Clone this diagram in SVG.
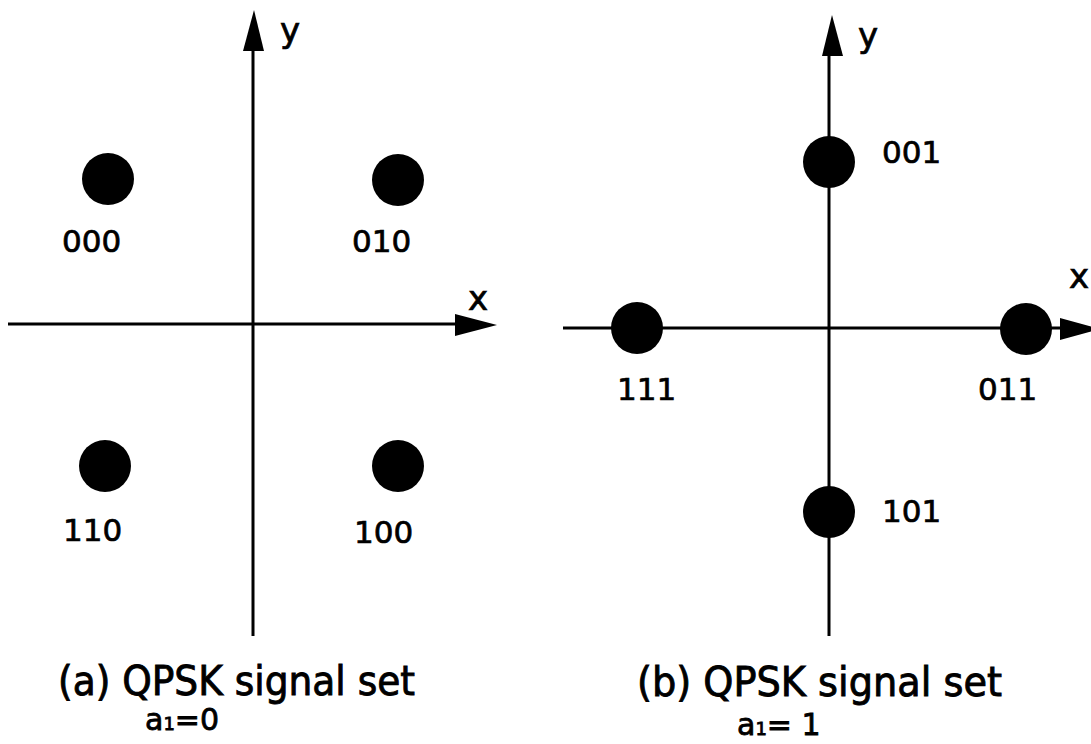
<svg xmlns="http://www.w3.org/2000/svg" width="1091" height="744" viewBox="0 0 1091 744">
<style>
.ax{stroke:#000;stroke-width:3;fill:none}
.ah{fill:#000}
.dot{fill:#000}
.lbl{font-family:"DejaVu Sans","Liberation Sans",sans-serif;font-size:31px;fill:#000;stroke:#000;stroke-width:0.7}
.axl{font-family:"DejaVu Sans","Liberation Sans",sans-serif;font-size:34px;fill:#000;stroke:#000;stroke-width:0.7}
.cap{font-family:"DejaVu Sans","Liberation Sans",sans-serif;font-size:40px;fill:#000;stroke:#000;stroke-width:0.9}
.sub{font-family:"DejaVu Sans","Liberation Sans",sans-serif;font-size:30px;fill:#000;stroke:#000;stroke-width:0.8}
</style>
<rect width="1091" height="744" fill="#fff"/>
<g id="connectors">
  <line class="ax" x1="253" y1="48" x2="253" y2="636"/>
  <polygon class="ah" points="254,10 243,51 264,51"/>
  <line class="ax" x1="8" y1="324" x2="457" y2="324"/>
  <polygon class="ah" points="497,325 455,314 455,336"/>
  <line class="ax" x1="829" y1="53" x2="829" y2="636"/>
  <polygon class="ah" points="832,15 822,56 843,56"/>
  <line class="ax" x1="563" y1="328" x2="1062" y2="328"/>
  <polygon class="ah" points="1100,329 1060,318 1060,340"/>
</g>
<g id="axis-labels-a">
  <text class="axl" x="280" y="42">y</text>
  <text class="axl" x="468" y="310">x</text>
</g>
<g id="axis-labels-b">
  <text class="axl" x="858" y="47">y</text>
  <text class="axl" x="1069" y="288">x</text>
</g>
<g id="n000"><circle class="dot" cx="108" cy="179" r="26"/><text class="lbl" x="62" y="252">000</text></g>
<g id="n010"><circle class="dot" cx="398" cy="180" r="26"/><text class="lbl" x="352" y="252">010</text></g>
<g id="n110"><circle class="dot" cx="105" cy="466" r="26"/><text class="lbl" x="63" y="541">110</text></g>
<g id="n100"><circle class="dot" cx="398" cy="466" r="26"/><text class="lbl" x="354" y="543">100</text></g>
<g id="n001"><circle class="dot" cx="829" cy="162" r="26"/><text class="lbl" x="882" y="163">001</text></g>
<g id="n111"><circle class="dot" cx="637" cy="328" r="26"/><text class="lbl" x="617" y="400">111</text></g>
<g id="n011"><circle class="dot" cx="1026" cy="329" r="26"/><text class="lbl" x="978" y="400">011</text></g>
<g id="n101"><circle class="dot" cx="829" cy="512" r="26"/><text class="lbl" x="882" y="522">101</text></g>
<g id="caption-a">
  <text class="cap" x="58" y="695" textLength="357" lengthAdjust="spacingAndGlyphs">(a) QPSK signal set</text>
  <text class="sub" x="145" y="730">a<tspan font-size="18">1</tspan>=0</text>
</g>
<g id="caption-b">
  <text class="cap" x="637" y="696" textLength="365" lengthAdjust="spacingAndGlyphs">(b) QPSK signal set</text>
  <text class="sub" x="737" y="735">a<tspan font-size="18">1</tspan>= 1</text>
</g>
</svg>
